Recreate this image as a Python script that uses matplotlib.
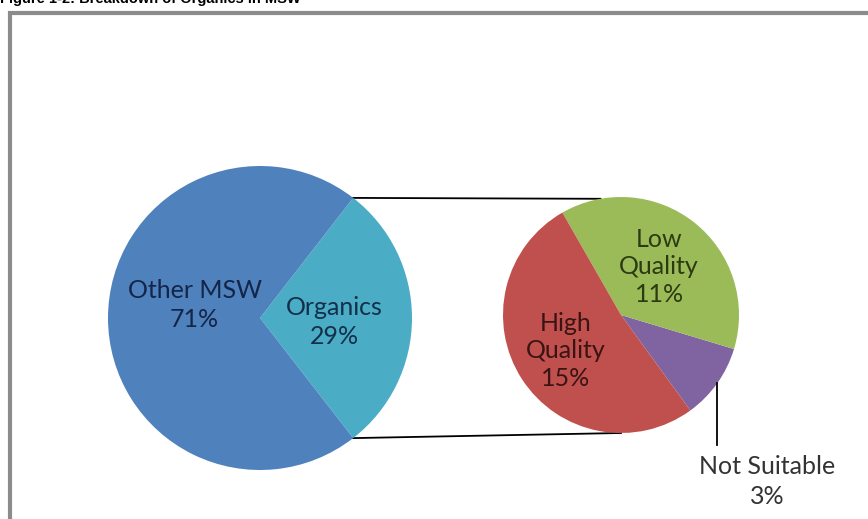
import numpy as np
import matplotlib.pyplot as plt

# data
main_labels = ["Organics", "Other MSW"]
main_values = [29, 71]
main_colors = ["#4BACC6", "#4F81BD"]

sub_labels = ["Not Suitable", "Low\nQuality", "High\nQuality"]
sub_values = [3, 11, 15]
sub_colors = ["#8064A2", "#9BBB59", "#C0504D"]

title = "Figure 1-2: Breakdown of Organics in MSW"

W, H = 868, 519
fig = plt.figure(figsize=(W / 100, H / 100), dpi=100)
ax = fig.add_axes([0, 0, 1, 1])
plt.rcParams["font.family"] = ["Lato", "DejaVu Sans"]

c1, r1 = (260, H - 318), 152
c2, r2 = (621, H - 315), 118

# main pie, organics wedge centred on the right
start1 = -main_values[0] / sum(main_values) * 360 / 2
w1, _ = ax.pie(main_values, colors=main_colors, center=c1, radius=r1,
               startangle=start1, frame=True)
# second pie, breakdown of organics
start2 = -54
w2, _ = ax.pie(sub_values, colors=sub_colors, center=c2, radius=r2,
               startangle=start2, frame=True)

fs = 18
main_txt = ["#13304a", "#13264a"]
main_pos = [(0.49, -4), (0.43, 13)]  # radial distance, vertical nudge
for w, lab, val, col, (d, dy) in zip(w1, main_labels, main_values, main_txt, main_pos):
    a = np.deg2rad((w.theta1 + w.theta2) / 2)
    ax.text(c1[0] + d * r1 * np.cos(a), c1[1] + d * r1 * np.sin(a) + dy,
            f"{lab}\n{val}%", ha="center", va="center", fontsize=fs,
            color=col, linespacing=1.35)

sub_txt = ["#333333", "#2c3a12", "#3a1414"]
tot = sum(sub_values)
for i, (w, lab, val, col) in enumerate(zip(w2, sub_labels, sub_values, sub_txt)):
    a = np.deg2rad((w.theta1 + w.theta2) / 2)
    pct = round(val / tot * main_values[0])
    if i == 0:
        # outside label with leader line
        x0 = c2[0] + r2 * np.cos(a)
        y0 = c2[1] + r2 * np.sin(a)
        ax.plot([x0, x0], [y0, y0 - 62], color="black", lw=1.3)
        ax.text(x0 + 50, y0 - 98, f"{lab}\n{pct}%", ha="center", va="center",
                fontsize=fs, color=col, linespacing=1.35)
    else:
        d = 0.52 if i == 1 else 0.56
        ax.text(c2[0] + d * r2 * np.cos(a), c2[1] + d * r2 * np.sin(a),
                f"{lab}\n{pct}%", ha="center", va="center", fontsize=fs,
                color=col, linespacing=1.25)

# connector lines between the pies
for a_main, a_sub in [(w1[0].theta2, 100), (w1[0].theta1, -90)]:
    p = np.deg2rad(a_main)
    q = np.deg2rad(a_sub)
    ax.plot([c1[0] + r1 * np.cos(p), c2[0] + r2 * np.cos(q)],
            [c1[1] + r1 * np.sin(p), c2[1] + r2 * np.sin(q)],
            color="black", lw=1.3, zorder=0)

# chart frame (cut off on right and bottom)
ax.plot([10, 10, W + 5], [-5, H - 13, H - 13], color="#8c8c8c", lw=3,
        solid_joinstyle="miter")

# caption, only its lower half is inside the image
ax.text(0, H + 1, title, ha="left", va="center", fontsize=10.5,
        fontweight="bold", family=["Liberation Sans", "DejaVu Sans"])

ax.set_xlim(0, W)
ax.set_ylim(0, H)
ax.set_aspect("auto")
ax.set_axis_off()

plt.savefig("out.png", dpi=100)
